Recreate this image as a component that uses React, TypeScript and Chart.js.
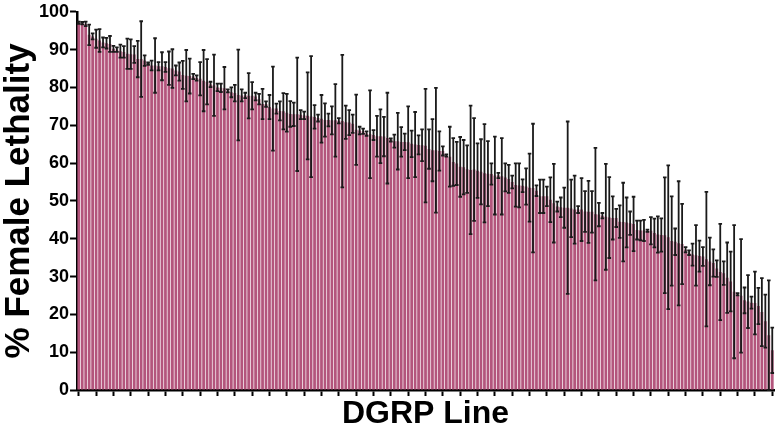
import React, { useEffect, useRef } from "react";
import { Chart, registerables } from "chart.js";

Chart.register(...registerables);

// Mean % female lethality per DGRP line (sorted, as in the figure)
const lethalityMean: number[] = [
  97.1, 97.0, 96.8, 93.9, 93.5, 92.9, 92.4, 91.9, 91.7, 91.5,
  90.2, 90.0, 89.6, 89.4, 88.9, 88.8, 88.7, 87.5, 87.5, 87.1,
  86.3, 85.8, 85.8, 85.6, 85.6, 85.4, 85.1, 85.0, 84.5, 84.2,
  83.3, 83.1, 83.0, 82.9, 82.5, 82.3, 81.8, 81.5, 80.8, 80.6,
  80.0, 79.9, 79.8, 79.1, 78.7, 78.5, 78.0, 77.9, 77.9, 77.8,
  77.8, 77.6, 76.9, 75.6, 75.6, 74.8, 74.4, 74.4, 73.8, 73.7,
  73.3, 73.0, 72.9, 72.9, 72.8, 72.6, 72.5, 72.3, 72.2, 71.9,
  71.7, 71.4, 71.4, 71.3, 71.3, 71.2, 71.1, 70.8, 70.7, 70.4,
  68.8, 68.6, 68.4, 67.8, 67.6, 67.4, 67.1, 67.1, 67.0, 66.6,
  66.1, 65.8, 65.8, 65.6, 65.6, 65.5, 65.1, 64.9, 64.8, 64.7,
  64.6, 63.7, 63.4, 63.4, 63.2, 63.2, 62.0, 61.7, 60.3, 59.9,
  59.0, 58.9, 58.4, 58.2, 58.3, 58.0, 57.7, 57.3, 57.2, 57.1,
  56.7, 56.7, 56.5, 56.2, 55.8, 55.0, 54.2, 54.1, 54.0, 53.8,
  53.5, 53.4, 52.7, 51.2, 51.2, 51.2, 50.3, 49.4, 48.5, 48.3,
  48.2, 48.2, 48.0, 47.7, 47.7, 47.7, 47.2, 47.1, 47.1, 46.5,
  46.4, 46.1, 45.8, 45.6, 45.5, 45.5, 44.5, 44.4, 44.3, 44.1,
  43.9, 42.3, 42.2, 42.2, 42.1, 42.1, 41.5, 41.1, 41.0, 40.9,
  40.4, 39.4, 39.2, 38.8, 38.6, 37.1, 36.3, 35.8, 35.6, 35.4,
  35.3, 34.6, 34.0, 33.6, 32.1, 31.2, 30.9, 29.7, 28.7, 26.0,
  25.3, 24.9, 23.7, 23.4, 23.1, 23.0, 22.2, 20.6, 18.2, 14.5,
  10.5,
];

// Error (half-length of the error bar) per line
const lethalityErr: number[] = [
  0.3, 0.3, 0.6, 2.7, 0.8, 2.4, 3.0, 1.3, 1.4, 2.1,
  0.8, 0.6, 1.7, 1.5, 4.0, 3.9, 2.2, 4.8, 10.0, 1.4,
  0.3, 1.3, 7.2, 1.1, 3.7, 1.3, 4.4, 5.1, 1.3, 2.4,
  3.7, 6.8, 4.6, 0.7, 0.7, 4.4, 8.1, 6.0, 0.7, 8.1,
  1.0, 1.1, 5.6, 0.4, 1.3, 2.2, 12.0, 1.6, 0.7, 6.0,
  3.6, 1.0, 1.4, 4.0, 0.7, 3.2, 11.1, 1.3, 2.5, 4.8,
  5.0, 3.4, 3.1, 15.0, 1.2, 1.0, 11.5, 16.0, 3.1, 0.9,
  6.3, 4.4, 1.7, 3.7, 9.6, 0.7, 17.5, 4.4, 3.3, 2.4,
  9.3, 1.0, 0.7, 0.6, 11.6, 1.3, 5.4, 7.1, 5.2, 12.0,
  0.4, 1.7, 7.5, 3.9, 2.2, 9.5, 3.5, 8.6, 2.5, 4.2,
  15.0, 5.2, 8.2, 16.5, 5.2, 1.2, 0.3, 7.9, 6.3, 5.7,
  7.9, 7.2, 6.3, 17.0, 13.6, 7.2, 8.6, 13.0, 8.6, 2.8,
  10.3, 0.7, 10.1, 3.7, 3.7, 1.7, 5.7, 5.8, 1.7, 4.8,
  9.0, 17.0, 1.4, 4.4, 4.4, 2.6, 5.9, 10.4, 1.3, 2.6,
  5.3, 22.8, 7.6, 9.0, 0.9, 8.3, 5.4, 8.2, 5.5, 17.5,
  3.1, 0.7, 14.0, 10.7, 5.7, 2.4, 4.3, 10.4, 6.6, 3.1,
  7.2, 2.5, 2.6, 2.8, 0.3, 3.6, 3.8, 4.8, 4.4, 15.3,
  19.0, 11.8, 3.5, 16.4, 10.6, 0.7, 0.6, 2.9, 8.0, 4.1,
  2.5, 17.8, 6.3, 3.6, 2.2, 12.7, 3.1, 9.3, 7.9, 17.6,
  0.3, 15.0, 3.4, 7.0, 1.6, 8.3, 4.8, 9.0, 7.0, 14.5,
  6.0,
];

const dgrpLines: string[] = lethalityMean.map((_, i) => `DGRP ${i + 1}`);
const yTickValues: number[] = [0, 10, 20, 30, 40, 50, 60, 70, 80, 90, 100];
const xAxisTitle = "DGRP Line";
const yAxisTitle = "% Female Lethality";

const FONT = "'Liberation Sans', Arial, Helvetica, sans-serif";

const errorBarPlugin = {
  id: "errorBars",
  afterDatasetsDraw(chart: any) {
    const { ctx } = chart;
    const yScale = chart.scales.y;
    const meta = chart.getDatasetMeta(0);
    ctx.save();
    ctx.strokeStyle = "#1a1a1a";
    ctx.lineWidth = 1.8;
    meta.data.forEach((bar: any, i: number) => {
      const m = lethalityMean[i];
      const e = lethalityErr[i];
      const x = bar.x;
      const yTop = yScale.getPixelForValue(m + e);
      const yBot = yScale.getPixelForValue(Math.max(0, m - e));
      ctx.beginPath();
      ctx.moveTo(x, yTop);
      ctx.lineTo(x, yBot);
      ctx.moveTo(x - 1.8, yTop);
      ctx.lineTo(x + 1.8, yTop);
      ctx.moveTo(x - 1.8, yBot);
      ctx.lineTo(x + 1.8, yBot);
      ctx.stroke();
    });
    ctx.restore();
  },
};

export default function App() {
  const canvasRef = useRef<HTMLCanvasElement | null>(null);

  useEffect(() => {
    if (!canvasRef.current) return;
    const chart = new Chart(canvasRef.current, {
      type: "bar",
      data: {
        labels: dgrpLines,
        datasets: [
          {
            data: lethalityMean,
            backgroundColor: "#b3557c",
            borderWidth: 0,
            barPercentage: 0.8,
            categoryPercentage: 1,
          },
        ],
      },
      options: {
        animation: false,
        responsive: true,
        maintainAspectRatio: false,
        layout: { padding: { top: 9, right: 3, left: 0, bottom: 0 } },
        plugins: {
          legend: { display: false },
          tooltip: { enabled: false },
        },
        scales: {
          x: {
            type: "category",
            offset: true,
            z: 1,
            border: { display: true, color: "#000", width: 2.5 },
            grid: {
              offset: false,
              drawOnChartArea: false,
              drawTicks: true,
              tickLength: 6,
              tickWidth: 2,
              tickColor: (c: any) => (c.index % 5 === 0 ? "#000" : "rgba(0,0,0,0)"),
            },
            ticks: { display: false, autoSkip: false },
            title: {
              display: true,
              text: xAxisTitle,
              color: "#000",
              font: { family: FONT, size: 32, weight: "bold", lineHeight: 1 },
              padding: { top: 2, bottom: 1 },
            },
          },
          y: {
            min: 0,
            max: 100,
            z: 1,
            afterBuildTicks: (scale: any) => {
              scale.ticks = yTickValues.map((v) => ({ value: v }));
            },
            border: { display: true, color: "#000", width: 2.5 },
            grid: {
              drawOnChartArea: false,
              drawTicks: true,
              tickLength: 7,
              tickWidth: 2,
              tickColor: "#000",
            },
            ticks: {
              color: "#000",
              padding: 1,
              font: { family: FONT, size: 18, weight: "bold" },
            },
            title: {
              display: true,
              text: yAxisTitle,
              color: "#000",
              font: { family: FONT, size: 35, weight: "bold", lineHeight: 1 },
              padding: { top: 2, bottom: 1 },
            },
          },
        },
      },
      plugins: [errorBarPlugin],
    });
    return () => chart.destroy();
  }, []);

  return (
    <div style={{ position: "absolute", left: 0, top: 0, width: 777, height: 431 }}>
      <canvas ref={canvasRef} />
    </div>
  );
}
